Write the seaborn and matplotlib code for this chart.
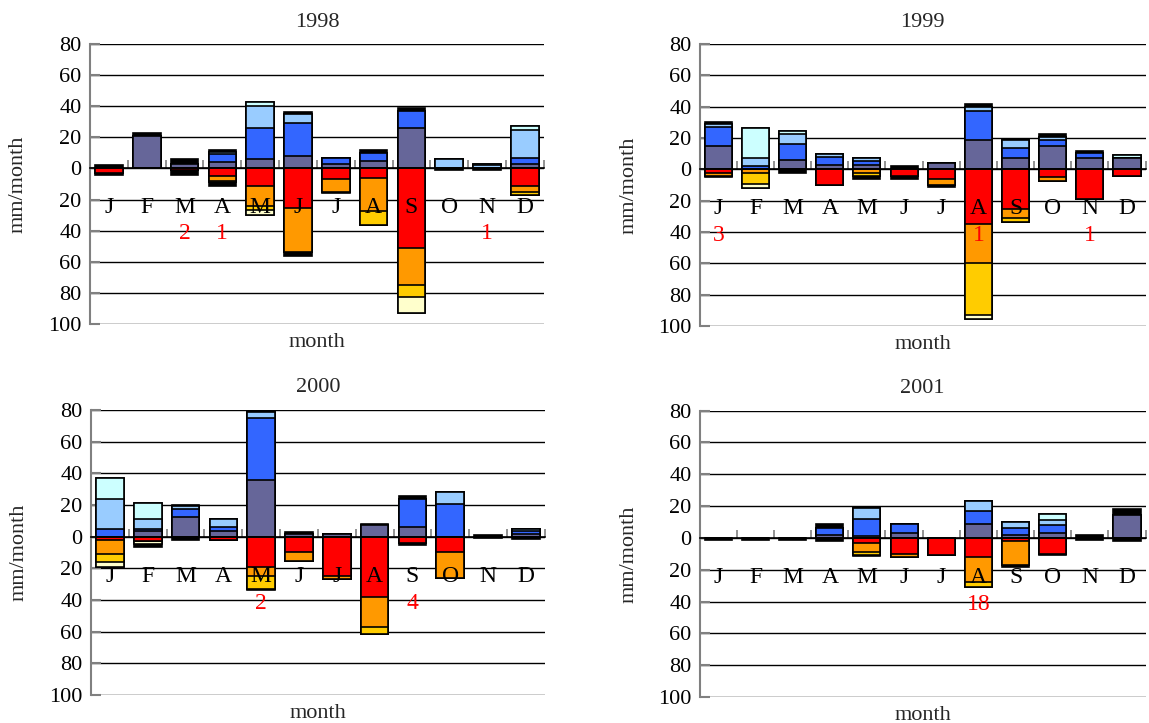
import numpy as np
import pandas as pd
import matplotlib
matplotlib.use("Agg")
import matplotlib.pyplot as plt
import seaborn as sns

# ---------------------------------------------------------------
# data (mm/month)
# ---------------------------------------------------------------
month_keys = ["Jan", "Feb", "Mar", "Apr", "May", "Jun",
              "Jul", "Aug", "Sep", "Oct", "Nov", "Dec"]
month_letters = ["J", "F", "M", "A", "M", "J", "J", "A", "S", "O", "N", "D"]
years = ["1998", "1999", "2000", "2001"]

# positive stack, bottom -> top
pos_layers = ["slate", "blue", "lightblue", "cyan", "black"]
pos_colors = ["#666699", "#3366FF", "#99CCFF", "#CCFFFF", "#000000"]
# negative stack, top -> bottom
neg_layers = ["red", "orange", "gold", "paleyellow", "black"]
neg_colors = ["#FF0000", "#FF9900", "#FFCC00", "#FFFFCC", "#000000"]

# 1998
slate_1998 = [0, 21, 3, 4, 6, 8, 3, 5, 26, 0, 0, 3]
blue_1998 = [0, 0, 0, 5, 20, 21, 4, 5, 11, 0, 0, 4]
lightblue_1998 = [0, 0, 0, 1.5, 14, 6, 0, 0, 0, 6, 2, 18]
cyan_1998 = [0, 0, 0, 0, 3, 0, 0, 0, 0, 0, 1, 2]
black_up_1998 = [2, 2, 3, 1.5, 0, 1.5, 0, 2, 2, 0, 0, 0]
red_1998 = [3, 0, 1, 5, 11, 25.5, 7, 6, 51, 0, 0, 11]
orange_1998 = [0, 0, 0, 3, 13, 28, 8, 21.5, 24, 0, 0, 4]
gold_1998 = [0, 0, 0, 1, 3, 0, 0, 9, 8, 0, 0, 2]
paleyellow_1998 = [0, 0, 0, 0, 3, 0, 0, 0, 10, 0, 0, 0]
black_down_1998 = [1, 0, 3, 2, 0, 2.5, 1, 0, 0, 1, 1, 0]
notes_1998 = ["", "", "2", "1", "", "", "", "", "", "", "1", ""]

# 1999
slate_1999 = [15, 0, 6, 3, 3, 0, 4, 19, 7, 15, 7, 7]
blue_1999 = [12, 2.5, 10, 5, 2.5, 0, 0, 18, 6.5, 4, 3.5, 0]
lightblue_1999 = [2, 5, 6.5, 2, 1.5, 0, 0, 3, 5, 2, 0, 0]
cyan_1999 = [0, 19, 2, 0, 0, 0, 0, 0, 0, 0, 0, 2]
black_up_1999 = [1.5, 0, 0, 0, 0, 2, 0, 1.5, 0, 1.5, 1.5, 0]
red_1999 = [2, 0, 0, 10, 0, 4, 6, 35, 25.5, 5, 19, 4]
orange_1999 = [2, 2, 0, 0, 2, 0, 4, 25, 5.5, 2.5, 0, 0]
gold_1999 = [0, 7, 0, 0, 2.5, 0, 0, 33, 2.5, 0, 0, 0]
paleyellow_1999 = [0, 3, 0, 0, 0, 0, 0, 2.5, 0, 0, 0, 0]
black_down_1999 = [1, 0, 2, 0, 1.5, 2, 1, 0, 0, 0, 0, 0]
notes_1999 = ["3", "", "", "", "", "", "", "1", "", "", "1", ""]

# 2000
slate_2000 = [0, 3.5, 12.5, 3.5, 36, 1.5, 1.5, 7, 6, 0, 0, 1.5]
blue_2000 = [5, 1.5, 5, 2.5, 39, 0, 0, 0, 18, 20.5, 0, 2]
lightblue_2000 = [19, 6, 1.5, 5, 4, 0, 0, 0, 0, 7.5, 0, 1.5]
cyan_2000 = [13, 10.5, 0, 0, 0, 0, 0, 0, 0, 0, 0, 0]
black_up_2000 = [0, 0, 1, 0, 0, 1.5, 0, 1, 1.5, 0, 1, 0]
red_2000 = [2, 3, 0, 2, 19, 9.5, 25, 38.5, 4, 10, 0, 0]
orange_2000 = [9, 0, 0, 0, 6, 6, 2, 18.5, 0, 16.5, 0, 0]
gold_2000 = [5, 0, 0, 0, 8, 0, 0, 4.5, 0, 0, 0, 0]
paleyellow_2000 = [3, 2, 0, 0, 0, 0, 0, 0, 0, 0, 0, 0]
black_down_2000 = [0, 1.5, 2, 0, 1, 0, 0, 0, 1.5, 0, 1, 1.5]
notes_2000 = ["", "", "", "", "2", "", "", "", "4", "", "", ""]

# 2001
slate_2001 = [0, 0, 0, 2, 1, 3, 0, 8.5, 2, 3, 0, 14.5]
blue_2001 = [0, 0, 0, 4, 11, 6, 0, 8.5, 4, 5, 0, 0]
lightblue_2001 = [0, 0, 0, 0, 7, 0, 0, 6, 4, 3, 0, 0]
cyan_2001 = [0, 0, 0, 0, 0, 0, 0, 0, 0, 4, 0, 0]
black_up_2001 = [0, 0, 0, 2.5, 0, 0, 0, 0, 0, 0, 2, 3.5]
red_2001 = [0, 0, 0, 0, 3, 10, 11, 12, 2, 10, 0, 0]
orange_2001 = [0, 0, 0, 0, 6, 1.7, 0, 16, 15, 0, 0, 0]
gold_2001 = [0, 0, 0, 0, 1.5, 0, 0, 3, 0, 0, 0, 0]
paleyellow_2001 = [0, 0, 0, 0, 0, 0, 0, 0, 0, 0, 0, 0]
black_down_2001 = [1.3, 1.3, 1.3, 2, 1, 0, 0, 0, 1.3, 1, 1, 2]
notes_2001 = ["", "", "", "", "", "", "", "18", "", "", "", ""]

pos_data = {
    "1998": [slate_1998, blue_1998, lightblue_1998, cyan_1998, black_up_1998],
    "1999": [slate_1999, blue_1999, lightblue_1999, cyan_1999, black_up_1999],
    "2000": [slate_2000, blue_2000, lightblue_2000, cyan_2000, black_up_2000],
    "2001": [slate_2001, blue_2001, lightblue_2001, cyan_2001, black_up_2001],
}
neg_data = {
    "1998": [red_1998, orange_1998, gold_1998, paleyellow_1998, black_down_1998],
    "1999": [red_1999, orange_1999, gold_1999, paleyellow_1999, black_down_1999],
    "2000": [red_2000, orange_2000, gold_2000, paleyellow_2000, black_down_2000],
    "2001": [red_2001, orange_2001, gold_2001, paleyellow_2001, black_down_2001],
}
notes = {"1998": notes_1998, "1999": notes_1999, "2000": notes_2000, "2001": notes_2001}

# ---------------------------------------------------------------
# style
# ---------------------------------------------------------------
sns.set_theme(style="white")
plt.rcParams["font.family"] = ["Liberation Serif", "DejaVu Serif"]
FS = 16

fig = plt.figure(figsize=(11.49, 7.23), dpi=100)

# axes rectangles (left, bottom, width, height) in figure fractions
rects = {
    "1998": [0.0783, 0.552, 0.395, 0.387],
    "1999": [0.609, 0.549, 0.388, 0.390],
    "2000": [0.0792, 0.039, 0.395, 0.394],
    "2001": [0.609, 0.036, 0.388, 0.396],
}


def stacked_frame(layers, names, sign):
    # cumulative stack heights per month, one column per layer
    df = pd.DataFrame(dict(zip(names, layers)), index=month_keys)
    cum = df.cumsum(axis=1) * sign
    cum["month"] = month_keys
    return cum


for year in years:
    ax = fig.add_axes(rects[year])

    pos = stacked_frame(pos_data[year], pos_layers, 1)
    neg = stacked_frame(neg_data[year], neg_layers, -1)

    # draw outermost cumulative first, inner layers on top of it
    for frame, names, colors in [(pos, pos_layers, pos_colors), (neg, neg_layers, neg_colors)]:
        for name, col in reversed(list(zip(names, colors))):
            sns.barplot(data=frame, x="month", y=name, order=month_keys, color=col,
                        saturation=1, width=0.73, edgecolor="black", linewidth=1.2,
                        errorbar=None, ax=ax)

    ax.set_ylim(-100, 80)
    ax.set_xlim(-0.5, 11.5)
    yt = np.arange(-100, 81, 20)
    ax.set_yticks(yt)
    ax.set_yticklabels([str(abs(v)) for v in yt], fontsize=FS)
    ax.set_xticks(np.arange(-0.5, 12, 1))
    ax.set_xticklabels([""] * 13)

    ax.yaxis.grid(True, color="black", linewidth=1)
    ax.xaxis.grid(False)
    ax.set_axisbelow(True)

    for s in ["top", "right"]:
        ax.spines[s].set_visible(False)
    ax.spines["left"].set_color("#808080")
    ax.spines["left"].set_linewidth(1.5)
    ax.spines["bottom"].set_position(("data", 0))
    ax.spines["bottom"].set_color("black")
    ax.spines["bottom"].set_linewidth(1.2)
    ax.tick_params(axis="x", direction="in", length=5.5, width=1.2, color="#808080",
                   pad=0, bottom=True)
    ax.tick_params(axis="y", direction="in", length=7, width=1.5, color="#808080",
                   pad=6, labelcolor="black", left=True)

    ax.set_xlabel("")
    ax.set_ylabel("")

    # month letters sit inside the plot, below the zero line
    for i, letter in enumerate(month_letters):
        ax.text(i, -25, letter, ha="center", va="center", fontsize=FS + 1,
                color="black", zorder=5)
    for i, n in enumerate(notes[year]):
        if n:
            ax.text(i, -42, n, ha="center", va="center", fontsize=FS + 1,
                    color="red", zorder=5)

    ax.text(0.5, 1.078, year, transform=ax.transAxes, ha="center", va="center",
            fontsize=FS)
    ax.text(0.5, -0.065, "month", transform=ax.transAxes, ha="center", va="center",
            fontsize=FS)
    ax.text(-0.159, 0.5, "mm/month", transform=ax.transAxes, ha="center",
            va="center", rotation=90, fontsize=FS)

fig.savefig("out.png", dpi=100)
